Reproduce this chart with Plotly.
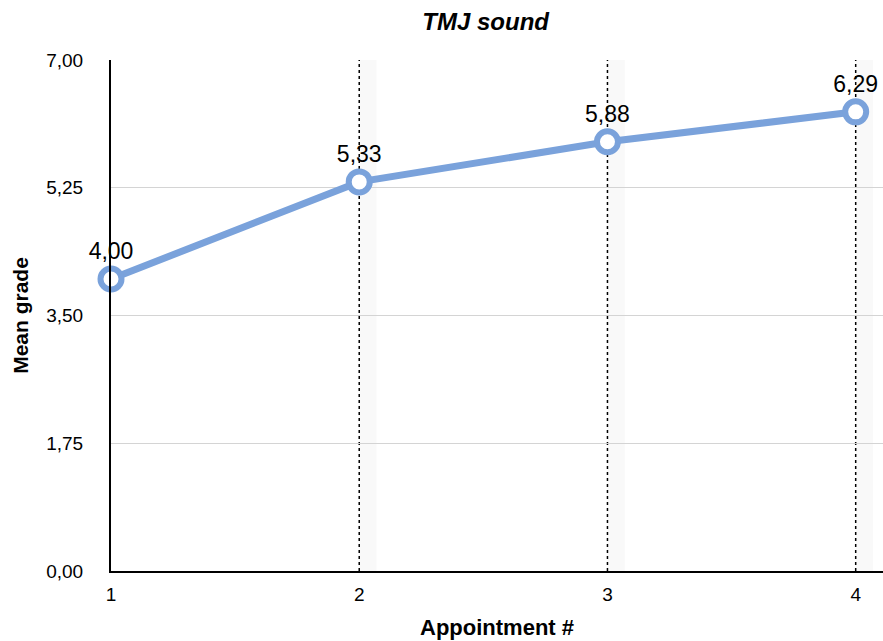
import plotly.graph_objects as go

# Mean grade per appointment
appointments = [1, 2, 3, 4]
mean_grade = [4.00, 5.33, 5.88, 6.29]
y_ticks = [0, 1.75, 3.5, 5.25, 7.0]

line_color = "#7aa2db"
font_family = "Liberation Sans, Arial, Helvetica, sans-serif"

fig = go.Figure()

fig.add_trace(go.Scatter(
    x=appointments,
    y=mean_grade,
    mode="lines+markers+text",
    line=dict(color=line_color, width=7),
    marker=dict(size=21, color="white", line=dict(color=line_color, width=6)),
    texttemplate="%{y:.2f}",
    textposition="top center",
    textfont=dict(size=23, color="black", family=font_family),
    cliponaxis=False,
    hoverinfo="skip",
))

# Dotted vertical guides with a soft shadow to their right
shapes = []
for a in appointments[1:]:
    shapes.append(dict(type="rect", xref="x", yref="y", x0=a, x1=a + 0.07,
                       y0=0, y1=7, fillcolor="rgba(0,0,0,0.025)", line=dict(width=0),
                       layer="below"))
    shapes.append(dict(type="line", xref="x", yref="y", x0=a, x1=a, y0=0, y1=7,
                       line=dict(color="black", width=1.5, dash="dot"), layer="below"))

fig.update_layout(
    width=883, height=641,
    margin=dict(l=111, r=0, t=60, b=70),
    paper_bgcolor="white", plot_bgcolor="white",
    separators=",.",
    showlegend=False,
    font=dict(family=font_family, color="black", size=19),
    shapes=shapes,
    title=dict(text="<b><i>TMJ sound</i></b>", x=0.55, xanchor="center",
               y=1 - 22 / 641, yanchor="middle", font=dict(size=24)),
    xaxis=dict(
        range=[1, 4.11], tickvals=appointments, ticktext=[str(a) for a in appointments],
        showgrid=False, zeroline=False, showline=True, linecolor="black", linewidth=2,
        ticks="", ticklabelstandoff=5, tickfont=dict(size=19),
        title=dict(text="<b>Appointment #</b>", font=dict(size=22), standoff=16),
    ),
    yaxis=dict(
        range=[0, 7], tickvals=y_ticks, tickformat=".2f",
        showgrid=True, gridcolor="#d4d4d4", gridwidth=1,
        zeroline=False, showline=True, linecolor="black", linewidth=2,
        ticks="", ticklabelstandoff=22, tickfont=dict(size=19),
        title=dict(text="<b>Mean grade</b>", font=dict(size=21), standoff=12),
    ),
)

fig.write_html("out.html")
